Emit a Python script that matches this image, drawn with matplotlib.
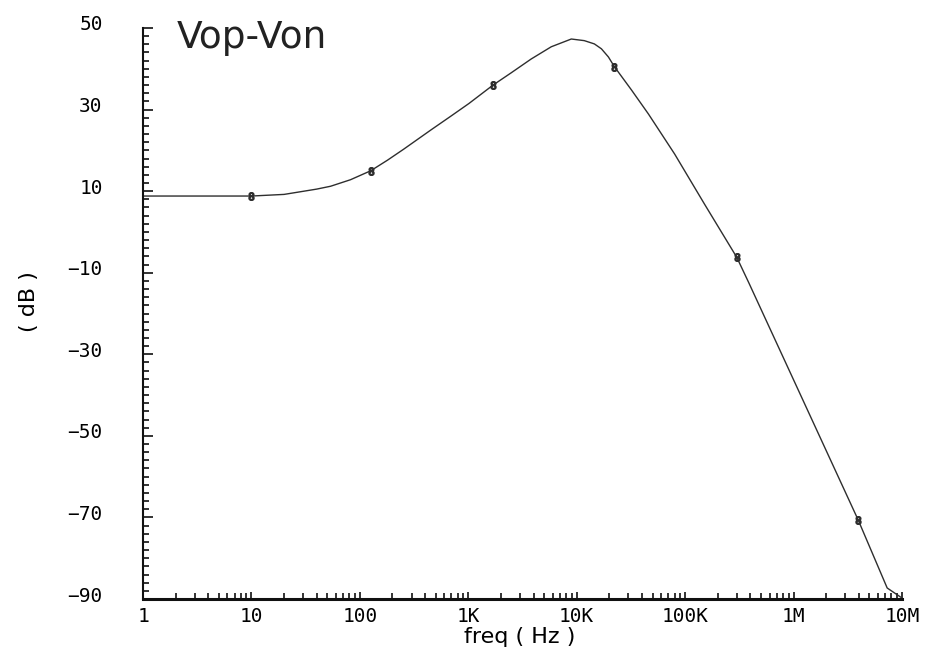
import matplotlib
matplotlib.use("Agg")
import matplotlib.pyplot as plt
import matplotlib.transforms as mtransforms
from matplotlib.ticker import FixedLocator, NullFormatter, LogLocator

# Frequency response of the differential output Vop-Von
freq_hz = [1, 3, 10, 20, 28.3, 40, 53.7, 82, 126, 180, 254, 452, 692, 1015,
           1691, 2483, 3802, 5826, 8917, 11754, 14544, 16892, 19600, 22280,
           32000, 45900, 80000, 151000, 299000, 387000, 1120000, 3940000,
           7300000, 9800000]
gain_db = [8.8, 8.8, 8.8, 9.2, 9.85, 10.5, 11.2, 12.8, 15.0, 17.6, 20.3, 25.0,
           28.4, 31.5, 36.0, 39.0, 42.4, 45.4, 47.3, 46.9, 46.1, 44.9, 42.9,
           40.5, 34.8, 28.9, 19.1, 6.8, -6.2, -12.5, -39.1, -70.6, -87.3,
           -89.6]

# Trace markers placed along the curve
marker_hz = [10, 126, 1691, 22280, 299000, 3940000]
marker_db = [8.8, 15.0, 36.0, 40.5, -6.2, -70.6]

y_major = [-90, -70, -50, -30, -10, 10, 30, 50]
x_major = [1, 10, 100, 1e3, 1e4, 1e5, 1e6, 1e7]
x_labels = ["1", "10", "100", "1K", "10K", "100K", "1M", "10M"]

fig = plt.figure(figsize=(9.39, 6.56), dpi=100)
ax = fig.add_axes([143 / 939, 57 / 656, 759 / 939, 571 / 656])

ax.plot(freq_hz, gain_db, color="#2e2e2e", lw=1.0)
ax.plot(marker_hz, marker_db, ls="none", marker=r"$8$", ms=5.5,
        color="#2e2e2e")

ax.set_xscale("log")
ax.set_xlim(1, 1e7)
ax.set_ylim(-90, 50)

for side in ("top", "right"):
    ax.spines[side].set_visible(False)
ax.spines["left"].set_linewidth(1.5)
ax.spines["bottom"].set_linewidth(2.2)
ax.spines["left"].set_color("#111111")
ax.spines["bottom"].set_color("#111111")

tick_font = dict(family="DejaVu Sans Mono", size=14)

ax.yaxis.set_major_locator(FixedLocator(y_major))
ax.yaxis.set_minor_locator(FixedLocator(list(range(-90, 51, 2))))
ax.set_yticks(y_major)
ax.set_yticklabels([str(v).replace("-", "\u2212") for v in y_major],
                   **tick_font)
ax.tick_params(axis="y", which="major", direction="in", length=7, width=1.2,
               pad=29, color="#111111")
ax.tick_params(axis="y", which="minor", direction="in", length=4, width=1.2,
               color="#111111")

ax.set_xticks(x_major)
ax.set_xticklabels(x_labels, **tick_font)
ax.xaxis.set_minor_locator(LogLocator(base=10, subs=range(2, 10), numticks=20))
ax.xaxis.set_minor_formatter(NullFormatter())
ax.tick_params(axis="x", which="major", direction="in", length=5, width=1.2,
               pad=6, color="#111111")
ax.tick_params(axis="x", which="minor", direction="in", length=4, width=1.2,
               color="#111111")

# y tick labels sit a little above their ticks
shift = mtransforms.ScaledTranslation(0, 5 / 100, fig.dpi_scale_trans)
for lbl in ax.get_yticklabels():
    lbl.set_transform(lbl.get_transform() + shift)

fig.text(520 / 939, 1 - 637 / 656, "freq ( Hz )", ha="center", va="center",
         fontsize=16, family="DejaVu Sans")
fig.text(29 / 939, 1 - 302 / 656, "( dB )", ha="center", va="center",
         fontsize=16, family="DejaVu Sans", rotation=90)
fig.text(177 / 939, 1 - 48 / 656, "Vop-Von", ha="left", va="baseline",
         fontsize=27, family="DejaVu Sans", color="#222222")

fig.savefig("out.png", dpi=100, facecolor="white")
